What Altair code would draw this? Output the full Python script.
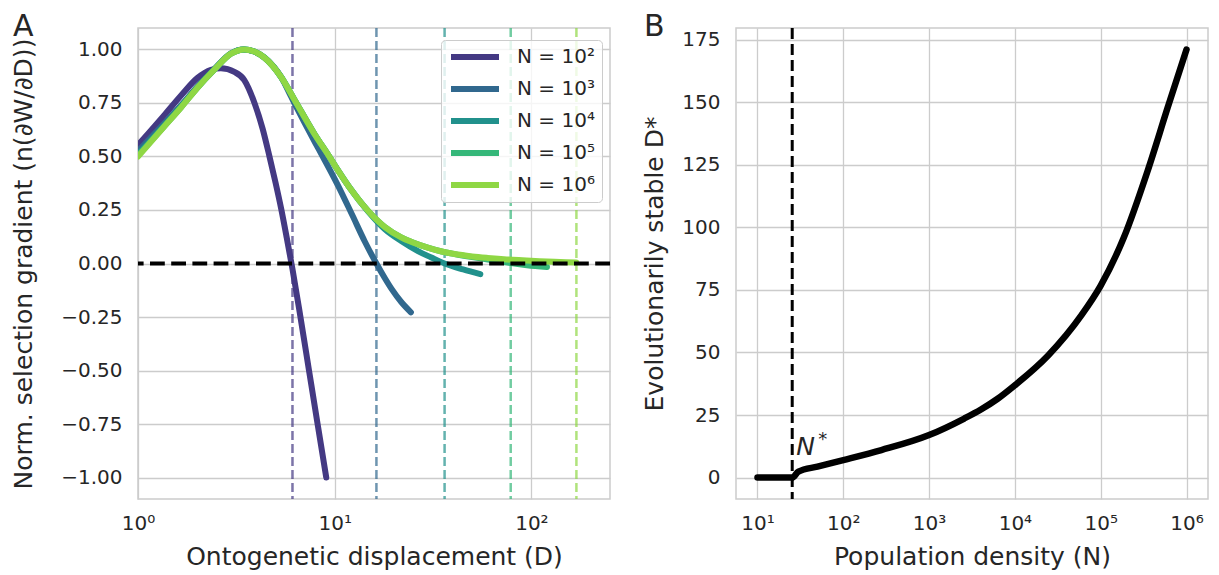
import altair as alt
import pandas as pd

# ---------------- Panel A data ----------------
series_labels = ["N = 10²", "N = 10³", "N = 10⁴", "N = 10⁵", "N = 10⁶"]
series_colors = ["#443983", "#31688e", "#21918c", "#35b779", "#8fd744"]

D_N2 = [1.0, 1.36, 1.66, 2.0, 2.35, 2.64, 3.09, 3.47, 3.91, 4.3, 4.66, 5.0, 5.35, 5.7, 6.1, 6.7, 7.41, 8.19, 9.06]
G_N2 = [0.553, 0.693, 0.786, 0.866, 0.905, 0.912, 0.895, 0.857, 0.75, 0.63, 0.50, 0.379, 0.254, 0.122, -0.026, -0.251, -0.502, -0.751, -1.0]

D_N3 = [1.0, 1.36, 1.66, 2.0, 2.44, 2.97, 3.42, 3.9, 4.39, 5.35, 6.0, 7.0, 8.0, 8.69, 10.4, 12.3, 14.2, 16.3, 18.0, 19.5, 21.8, 24.4]
G_N3 = [0.525, 0.655, 0.74, 0.825, 0.908, 0.982, 1.0, 0.99, 0.962, 0.87, 0.78, 0.66, 0.56, 0.5, 0.364, 0.225, 0.104, 0.0, -0.069, -0.12, -0.18, -0.228]

D_N4 = [1.0, 1.36, 1.66, 2.0, 2.44, 2.97, 3.47, 3.9, 4.39, 5.35, 6.2, 7.89, 9.3, 10.4, 12.0, 14.8, 18.0, 21.8, 26.5, 31.0, 36.2, 45.0, 55.0]
G_N4 = [0.51, 0.645, 0.735, 0.822, 0.906, 0.981, 1.0, 0.99, 0.963, 0.87, 0.77, 0.605, 0.505, 0.435, 0.35, 0.243, 0.16, 0.105, 0.058, 0.028, 0.0, -0.028, -0.05]

D_N5 = [1.0, 1.36, 1.66, 2.0, 2.44, 2.97, 3.47, 3.9, 4.39, 5.35, 6.2, 7.89, 9.3, 10.4, 12.0, 14.8, 18.0, 21.8, 25.0, 30.0, 35.0, 40.7, 50.0, 60.0, 70.0, 78.5, 95.0, 120.0]
G_N5 = [0.505, 0.641, 0.731, 0.82, 0.905, 0.98, 1.0, 0.99, 0.962, 0.87, 0.77, 0.605, 0.505, 0.435, 0.35, 0.245, 0.17, 0.122, 0.098, 0.073, 0.056, 0.044, 0.03, 0.019, 0.009, 0.002, -0.008, -0.016]

D_N6 = [1.0, 1.36, 1.66, 2.0, 2.44, 2.97, 3.47, 3.9, 4.39, 5.35, 6.2, 7.89, 9.3, 10.4, 12.0, 14.8, 18.0, 21.8, 25.0, 30.0, 35.0, 40.7, 50.0, 60.0, 75.0, 90.0, 110.0, 131.0, 150.0, 169.0]
G_N6 = [0.50, 0.64, 0.73, 0.82, 0.905, 0.98, 1.0, 0.99, 0.962, 0.87, 0.77, 0.605, 0.505, 0.435, 0.35, 0.245, 0.17, 0.122, 0.098, 0.073, 0.056, 0.044, 0.033, 0.026, 0.019, 0.015, 0.011, 0.008, 0.006, 0.005]

D_star = [6.1, 16.3, 36.2, 78.5, 169.4]

yA_ticks = [-1.0, -0.75, -0.5, -0.25, 0.0, 0.25, 0.5, 0.75, 1.0]
xA_ticks = [1, 10, 100]

# ---------------- Panel B data ----------------
N_B = [10, 25.4, 30, 50, 100, 278, 1000, 2570, 4020, 6300, 10000, 24400, 59400, 100000, 186000, 352000, 602000, 1000000]
Dstar_B = [0, 0, 2.4, 4.4, 7.0, 11.0, 17.0, 23.6, 27.2, 31.5, 36.9, 48.8, 64.8, 76.7, 95.9, 122.5, 147.7, 171.0]
N_crit = [25.4]
note_D = [9.0]
yB_ticks = [0, 25, 50, 75, 100, 125, 150, 175]
xB_ticks = [10, 100, 1000, 10000, 100000, 1000000]

# ---------------- build tables ----------------
rows = []
for lab, Ds, Gs in zip(series_labels, [D_N2, D_N3, D_N4, D_N5, D_N6], [G_N2, G_N3, G_N4, G_N5, G_N6]):
    for d, g in zip(Ds, Gs):
        rows.append({"D": d, "G": g, "series": lab})
curves_df = pd.DataFrame(rows)
vlines_df = pd.DataFrame({"D": D_star, "series": series_labels})
zero_df = pd.DataFrame({"G": [0.0]})

dens_df = pd.DataFrame({"N": N_B, "Dstar": Dstar_B})
ncrit_df = pd.DataFrame({"N": N_crit})
note_df = pd.DataFrame({"N": N_crit, "Dstar": note_D})

FONT = "DejaVu Sans"
TXT = "#262626"
sup_expr = "'10' + ['⁰','¹','²','³','⁴','⁵','⁶'][round(log(datum.value)/LN10)]"

W, H = 472, 471

# ---------------- Panel A ----------------
xA = alt.X("D:Q",
           scale=alt.Scale(type="log", domain=[1, 251], nice=False),
           axis=alt.Axis(values=xA_ticks, labelExpr=sup_expr, labelFlush=False, labelPadding=14,
                         title="Ontogenetic displacement (D)", titlePadding=11))
yA = alt.Y("G:Q",
           scale=alt.Scale(domain=[-1.1, 1.1], nice=False, zero=False),
           axis=alt.Axis(values=yA_ticks, format=".2f", labelFlush=False, labelPadding=16,
                         title="Norm. selection gradient (n(∂W/∂D))", titlePadding=24))
color_scale = alt.Scale(domain=series_labels, range=series_colors)

vline_layers = [
    alt.Chart(vlines_df).transform_filter(alt.datum.series == lab).mark_rule(
        color=col, strokeWidth=2.5, strokeDash=[9, 4], opacity=0.7
    ).encode(x=xA)
    for lab, col in zip(series_labels, series_colors)
]

curves = alt.Chart(curves_df).mark_line(strokeWidth=6, interpolate="monotone", strokeCap="round", clip=True).encode(
    x=xA,
    y=yA,
    color=alt.Color("series:N", scale=color_scale, sort=series_labels,
                    legend=alt.Legend(title=None, orient="none", legendX=303, legendY=12,
                                      fillColor="rgba(255,255,255,0.8)", strokeColor="#cccccc",
                                      cornerRadius=4, padding=7,
                                      labelFont=FONT, labelFontSize=20, labelColor=TXT,
                                      symbolType="stroke", symbolSize=2304, symbolStrokeWidth=6,
                                      clipHeight=20, rowPadding=12, labelOffset=15)),
)

zero_line = alt.Chart(zero_df).mark_rule(color="black", strokeWidth=4, strokeDash=[14.8, 6.4]).encode(y=yA)

letterA = alt.Chart(pd.DataFrame({"t": ["A"]})).mark_text(
    fontSize=30, font=FONT, color=TXT, align="left", baseline="alphabetic"
).encode(text="t:N", x=alt.value(-125), y=alt.value(8))

panelA = alt.layer(*vline_layers, curves, zero_line, letterA).properties(width=W, height=H)

# ---------------- Panel B ----------------
xB = alt.X("N:Q",
           scale=alt.Scale(type="log", domain=[5.62, 1.78e6], nice=False),
           axis=alt.Axis(values=xB_ticks, labelExpr=sup_expr, labelFlush=False, labelPadding=14,
                         title="Population density (N)", titlePadding=11))
yB = alt.Y("Dstar:Q",
           scale=alt.Scale(domain=[-8.55, 179.6], nice=False, zero=False),
           axis=alt.Axis(values=yB_ticks, format="d", labelFlush=False, labelPadding=16,
                         title="Evolutionarily stable D*", titlePadding=14))

ncrit_rule = alt.Chart(ncrit_df).mark_rule(color="black", strokeWidth=3, strokeDash=[11, 5]).encode(x=xB)

dens_line = alt.Chart(dens_df).mark_line(color="black", strokeWidth=6.5, interpolate="monotone", strokeCap="round").encode(
    x=xB, y=yB)

noteN = alt.Chart(note_df).mark_text(text="N", fontSize=25, font=FONT, fontStyle="italic", color=TXT,
                                     align="left", baseline="alphabetic", dx=4).encode(x=xB, y=yB)
noteStar = alt.Chart(note_df).mark_text(text="*", fontSize=18, font=FONT, color=TXT,
                                        align="left", baseline="alphabetic", dx=26, dy=-10).encode(x=xB, y=yB)

letterB = alt.Chart(pd.DataFrame({"t": ["B"]})).mark_text(
    fontSize=30, font=FONT, color=TXT, align="left", baseline="alphabetic"
).encode(text="t:N", x=alt.value(-92), y=alt.value(8))

panelB = alt.layer(ncrit_rule, dens_line, noteN, noteStar, letterB).properties(width=W, height=H)

chart = alt.hconcat(panelA, panelB, spacing=29).configure(
    padding={"left": 2, "top": 3, "right": 0, "bottom": 0}, font=FONT
).configure_view(
    stroke="#cccccc", strokeWidth=1.5
).configure_axis(
    grid=True, gridColor="#cccccc", gridWidth=1.3, domain=False, ticks=False,
    labelFont=FONT, labelFontSize=20, labelColor=TXT,
    titleFont=FONT, titleFontSize=25, titleFontWeight="normal", titleColor=TXT,
)

chart.save("out.html", embed_options={"renderer": "svg", "actions": False})
